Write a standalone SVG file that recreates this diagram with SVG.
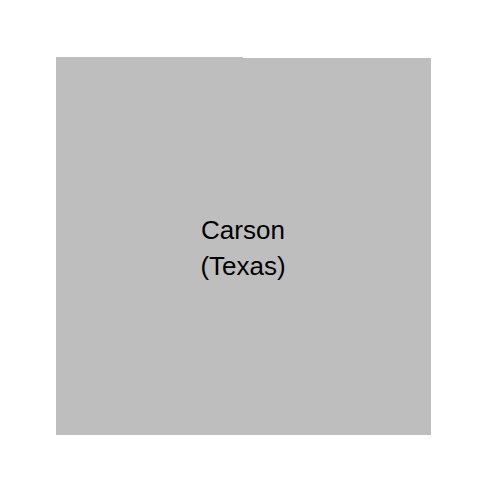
<svg xmlns="http://www.w3.org/2000/svg" width="487" height="492" viewBox="0 0 487 492"><style>text{font-family:"Liberation Sans",Arial,sans-serif;font-size:26px;fill:#000;text-anchor:middle}</style><rect width="487" height="492" fill="#fff"/><g id="carson"><polygon points="56,57 243,57 243,58 431,58 431,435 56,435" fill="#bebebe"/><text x="243" y="239">Carson</text><text x="243" y="275">(Texas)</text></g></svg>
